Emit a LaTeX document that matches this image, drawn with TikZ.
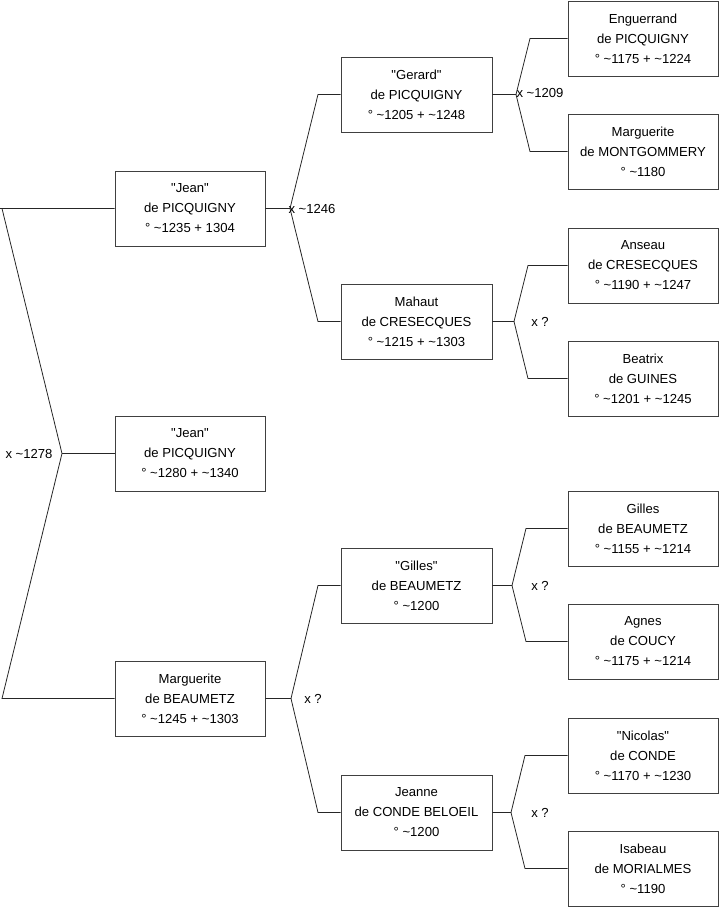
\documentclass[tikz,border=0pt]{standalone}
\usepackage{fontspec}
\setmainfont{Liberation Sans}[Ligatures=TeXOff]
\newcommand{\tld}{\textasciitilde}
\begin{document}
\begin{tikzpicture}[x=1pt,y=-1pt,
  person/.style={draw=black!75, fill=white, line width=0.8pt, minimum width=150pt, minimum height=75pt, align=center, font=\fontsize{13.1}{20}\selectfont, inner sep=0pt},
  link/.style={draw=black!85, line width=0.8pt},
  mlabel/.style={font=\fontsize{13.1}{15}\selectfont, inner sep=0pt}]
\useasboundingbox (0,0) rectangle (719,908);
% column 1
\node[person] (jean1) at (190,208.5) {"Jean"\\de PICQUIGNY\\° \tld1235 + 1304};
\node[person] (jean2) at (190,453.5) {"Jean"\\de PICQUIGNY\\° \tld1280 + \tld1340};
\node[person] (marg1) at (190,698.5) {Marguerite\\de BEAUMETZ\\° \tld1245 + \tld1303};
% column 2
\node[person, minimum width=151pt] (gerard) at (416.5,94.5) {"Gerard"\\de PICQUIGNY\\° \tld1205 + \tld1248};
\node[person, minimum width=151pt] (mahaut) at (416.5,321.5) {Mahaut\\de CRESECQUES\\° \tld1215 + \tld1303};
\node[person, minimum width=151pt] (gilles2) at (416.5,585.5) {"Gilles"\\de BEAUMETZ\\° \tld1200};
\node[person, minimum width=151pt] (jeanne) at (416.5,812.5) {Jeanne\\de CONDE BELOEIL\\° \tld1200};
% column 3
\node[person] (enguerrand) at (643,38.5) {Enguerrand\\de PICQUIGNY\\° \tld1175 + \tld1224};
\node[person] (margm) at (643,151.5) {Marguerite\\de MONTGOMMERY\\° \tld1180};
\node[person] (anseau) at (643,265.5) {Anseau\\de CRESECQUES\\° \tld1190 + \tld1247};
\node[person] (beatrix) at (643,378.5) {Beatrix\\de GUINES\\° \tld1201 + \tld1245};
\node[person] (gilles3) at (643,528.5) {Gilles\\de BEAUMETZ\\° \tld1155 + \tld1214};
\node[person] (agnes) at (643,641.5) {Agnes\\de COUCY\\° \tld1175 + \tld1214};
\node[person] (nicolas) at (643,755.5) {"Nicolas"\\de CONDE\\° \tld1170 + \tld1230};
\node[person] (isabeau) at (643,868.5) {Isabeau\\de MORIALMES\\° \tld1190};
% level 0 junction
\coordinate (j0) at (62,453.5);
\coordinate (b0a) at (2,208.5);
\coordinate (b0b) at (2,698.5);
\draw[link] (jean1.west) -- (0,208.5) (b0a) -- (j0) -- (b0b) -- (marg1.west);
\draw[link] (j0) -- (jean2.west);
\node[mlabel] (l0) at (29,453.5) {x \tld1278};
% level 1 junctions
\coordinate (j1) at (290,208.5);
\coordinate (b1a) at (318,94.5);
\coordinate (b1b) at (318,321.5);
\draw[link] (jean1.east) -- (j1) -- (b1a) -- (gerard.west);
\draw[link] (j1) -- (b1b) -- (mahaut.west);
\node[mlabel] (l1) at (312,208.5) {x \tld1246};
\coordinate (j2) at (291,698.5);
\coordinate (b2a) at (318,585.5);
\coordinate (b2b) at (318,812.5);
\draw[link] (marg1.east) -- (j2) -- (b2a) -- (gilles2.west);
\draw[link] (j2) -- (b2b) -- (jeanne.west);
\node[mlabel] (l2) at (313,698.5) {x ?};
% level 2 junctions
\coordinate (j3) at (516,94.5);
\coordinate (b3a) at (530,38.5);
\coordinate (b3b) at (530,151.5);
\draw[link] (gerard.east) -- (j3) -- (b3a) -- (enguerrand.west);
\draw[link] (j3) -- (b3b) -- (margm.west);
\node[mlabel] (l3) at (540,92.5) {x \tld1209};
\coordinate (j4) at (514,321.5);
\coordinate (b4a) at (528,265.5);
\coordinate (b4b) at (528,378.5);
\draw[link] (mahaut.east) -- (j4) -- (b4a) -- (anseau.west);
\draw[link] (j4) -- (b4b) -- (beatrix.west);
\node[mlabel] (l4) at (540,321.5) {x ?};
\coordinate (j5) at (512,585.5);
\coordinate (b5a) at (526,528.5);
\coordinate (b5b) at (526,641.5);
\draw[link] (gilles2.east) -- (j5) -- (b5a) -- (gilles3.west);
\draw[link] (j5) -- (b5b) -- (agnes.west);
\node[mlabel] (l5) at (540,585.5) {x ?};
\coordinate (j6) at (511,812.5);
\coordinate (b6a) at (525,755.5);
\coordinate (b6b) at (525,868.5);
\draw[link] (jeanne.east) -- (j6) -- (b6a) -- (nicolas.west);
\draw[link] (j6) -- (b6b) -- (isabeau.west);
\node[mlabel] (l6) at (540,812.5) {x ?};
\end{tikzpicture}
\end{document}
